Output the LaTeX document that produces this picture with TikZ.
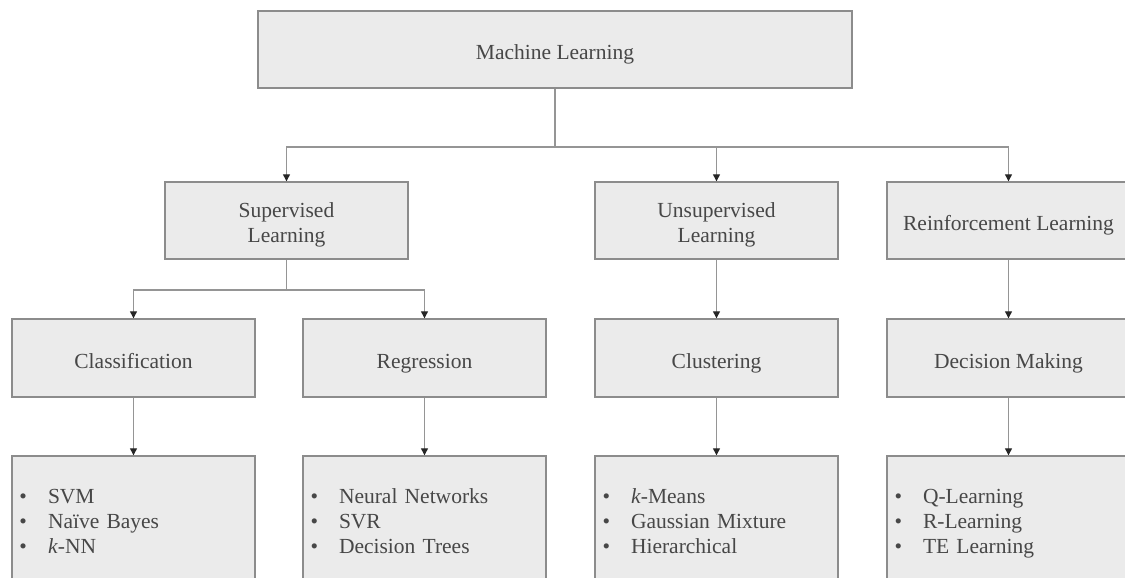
\documentclass[tikz,border=0pt]{standalone}
\usepackage{fontspec}
\setmainfont{Liberation Serif}
\usetikzlibrary{arrows.meta}
\definecolor{boxfill}{HTML}{EBEBEB}
\definecolor{boxline}{HTML}{8C8C8C}
\definecolor{wire}{HTML}{959595}
\definecolor{ink}{HTML}{474747}
\newcommand{\mltop}{\rule{0pt}{25pt}}
\newcommand{\mlbottom}{\rule[-5pt]{0pt}{5pt}}
\newcommand{\mlitem}[1]{\textbullet\hspace{21pt}#1}
\tikzset{
  mlbase/.style={draw=boxline, line width=1.4pt, fill=boxfill, text=ink, inner sep=0pt,
    minimum width=243pt, minimum height=77pt, align=center, font=\fontsize{21.5}{25}\selectfont,
    execute at end node=\mlbottom},
  mlbox/.style={mlbase, execute at begin node=\mltop},
  twoline/.style={mlbase, execute at begin node=\rule{0pt}{48pt}},
  listbox/.style={mlbox, minimum height=124pt, text width=228pt, inner xsep=7.5pt, align=left},
  wireline/.style={draw=wire, line width=1.2pt},
  wirearrow/.style={wireline, -{Triangle[length=7pt,width=7pt,color=black!85]}},
}
\begin{document}
\begin{tikzpicture}[x=1pt,y=-1pt]
    % 画布大小 (下方和右侧的框被裁掉)
    \path[use as bounding box] (0,0) rectangle (1125,578);
    \clip (0,0) rectangle (1125,578);

    % 第一层
    \node[mlbox, minimum width=594pt] (ml) at (555,49.5) {Machine Learning};

    % 第二层
    \node[twoline] (sup) at (286.5,220.5) {Supervised\\Learning};
    \node[twoline] (unsup) at (716.5,220.5) {Unsupervised\\Learning};
    \node[mlbox] (rein) at (1008.5,220.5) {Reinforcement Learning};

    % 第三层
    \node[mlbox, minimum height=78pt] (cls) at (133.5,358) {Classification};
    \node[mlbox, minimum height=78pt] (reg) at (424.5,358) {Regression};
    \node[mlbox, minimum height=78pt] (clu) at (716.5,358) {Clustering};
    \node[mlbox, minimum height=78pt] (dec) at (1008.5,358) {Decision Making};

    % 第四层: 算法列表
    \node[listbox] (clslist) at (133.5,518)
        {\mlitem{SVM}\\\mlitem{Naïve Bayes}\\\mlitem{\textit{k}-NN}};
    \node[listbox] (reglist) at (424.5,518)
        {\mlitem{Neural Networks}\\\mlitem{SVR}\\\mlitem{Decision Trees}};
    \node[listbox] (clulist) at (716.5,518)
        {\mlitem{\textit{k}-Means}\\\mlitem{Gaussian Mixture}\\\mlitem{Hierarchical}};
    \node[listbox] (declist) at (1008.5,518)
        {\mlitem{Q-Learning}\\\mlitem{R-Learning}\\\mlitem{TE Learning}};

    % 分叉点
    \coordinate (mlj) at (555,147);
    \coordinate (supj) at (286.5,290);

    % 连线
    \draw[wireline] (ml.south) -- (mlj);
    \draw[wirearrow] (mlj) -| (sup.north);
    \draw[wirearrow] (mlj) -| (unsup.north);
    \draw[wirearrow] (mlj) -| (rein.north);

    \draw[wireline] (sup.south) -- (supj);
    \draw[wirearrow] (supj) -| (cls.north);
    \draw[wirearrow] (supj) -| (reg.north);
    \draw[wirearrow] (unsup) -- (clu);
    \draw[wirearrow] (rein) -- (dec);

    \draw[wirearrow] (cls) -- (clslist);
    \draw[wirearrow] (reg) -- (reglist);
    \draw[wirearrow] (clu) -- (clulist);
    \draw[wirearrow] (dec) -- (declist);
\end{tikzpicture}
\end{document}
